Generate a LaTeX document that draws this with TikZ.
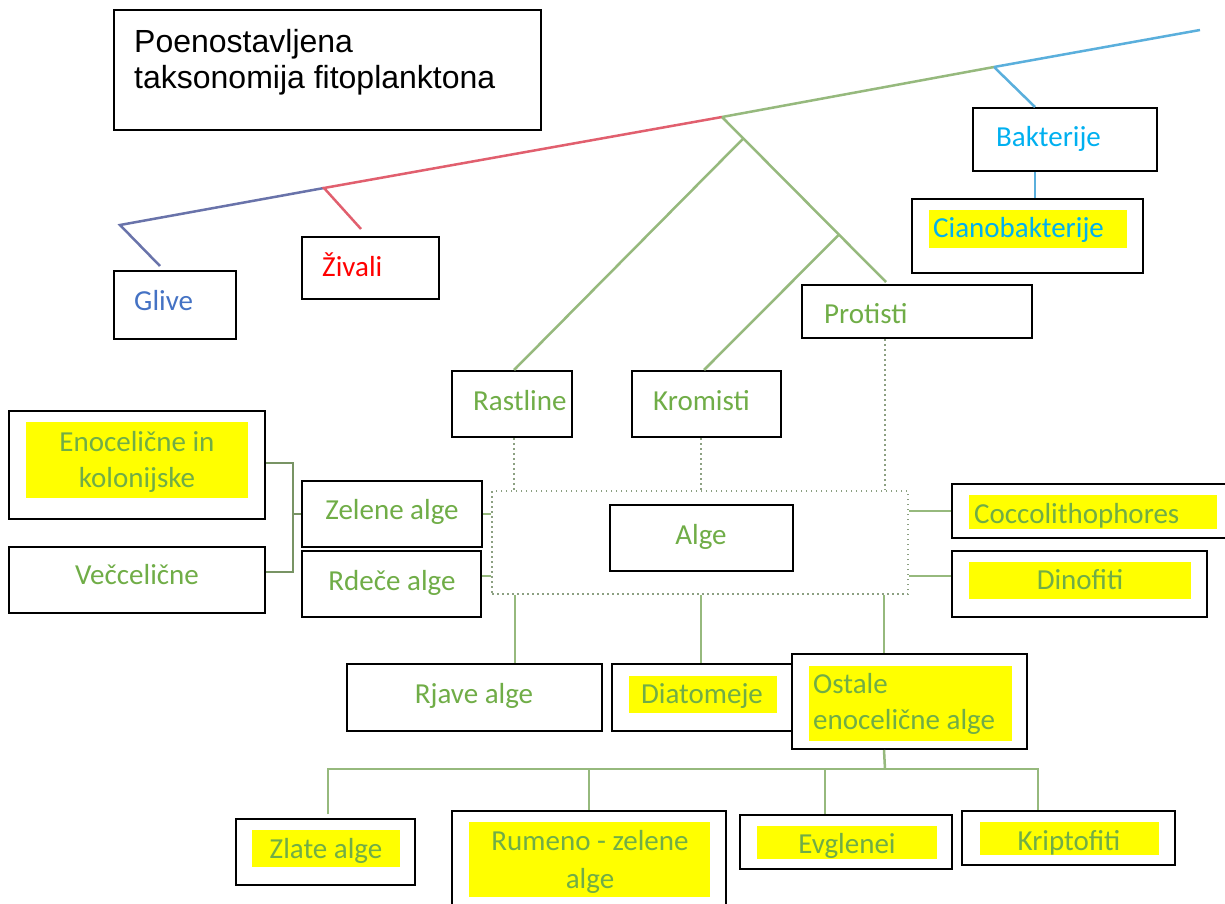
\documentclass[tikz,border=0pt]{standalone}
\usepackage{fontspec}
\setmainfont{Carlito}
\newfontfamily\titlefont{Liberation Sans}
\usetikzlibrary{fit,calc}
\definecolor{tgreen}{HTML}{70AD47}
\definecolor{tblue}{HTML}{4472C4}
\definecolor{tred}{HTML}{FF0000}
\definecolor{tcyan}{HTML}{00B0F0}
\definecolor{lgreen}{RGB}{150,185,125}
\definecolor{lblue}{RGB}{105,115,170}
\definecolor{lred}{RGB}{225,95,110}
\definecolor{lcyan}{RGB}{90,175,220}
\definecolor{ldot}{RGB}{140,160,130}
\definecolor{hlyellow}{RGB}{255,255,0}
\begin{document}
\begin{tikzpicture}[x=1pt,y=-1pt,
  box/.style={draw=black,line width=2pt,fill=white,inner sep=0pt},
  hl/.style={fill=hlyellow,inner sep=0pt},
  lbl/.style={inner sep=0pt,font=\fontsize{29}{37}\selectfont},
  gline/.style={draw=lgreen,line width=2.5pt},
  dline/.style={draw=ldot,line width=2.5pt,dash pattern=on 1.5pt off 3.5pt}]
\useasboundingbox (0,0) rectangle (1225,904);
\clip (0,0) rectangle (1225,904);
\fill[white] (0,0) rectangle (1225,904);

% tree junctions
\coordinate (gc) at (120,225);
\coordinate (jz) at (324,188);
\coordinate (jg) at (722,117);
\coordinate (jc) at (994,67);
\coordinate (tend) at (1200,30);

% boxes
\node[box,fit={(114,10)(541,130)}] (title) {};
\node[box,fit={(114,271)(236,339)}] (glive) {};
\node[box,fit={(302,237)(439,299)}] (zivali) {};
\node[box,fit={(973,108)(1157,171)}] (bakt) {};
\node[box,fit={(912,199)(1143,273)}] (ciano) {};
\node[box,fit={(802,285)(1032,338)}] (protisti) {};
\node[box,fit={(452,371)(572,437)}] (rastline) {};
\node[box,fit={(632,371)(781,437)}] (kromisti) {};
\node[box,fit={(9,411)(265,519)}] (enoc) {};
\node[box,fit={(9,547)(265,613)}] (vecc) {};
\node[box,fit={(302,481)(482,547)}] (zelene) {};
\node[box,fit={(302,551)(481,617)}] (rdece) {};
\node[dline,inner sep=0pt,fit={(492,491)(908,594)}] (algae) {};
\node[box,fit={(610,505)(793,571)}] (alge) {};
\node[box,fit={(952,484)(1228,538)}] (cocco) {};
\node[box,fit={(952,551)(1207,617)}] (dino) {};
\node[box,fit={(347,664)(602,731)}] (rjave) {};
\node[box,fit={(612,664)(800,731)}] (diat) {};
\node[box,fit={(792,654)(1027,749)}] (ostale) {};
\node[box,fit={(236,819)(415,885)}] (zlate) {};
\node[box,fit={(452,811)(726,915)}] (rumeno) {};
\node[box,fit={(740,815)(952,869)}] (evgl) {};
\node[box,fit={(962,811)(1175,865)}] (kripto) {};

% highlights
\node[hl,fit={(929,210)(1127,248)}] (hciano) {};
\node[hl,fit={(26,422)(248,498)}] (henoc) {};
\node[hl,fit={(969,495)(1217,529)}] (hcocco) {};
\node[hl,fit={(969,562)(1191,599)}] (hdino) {};
\node[hl,fit={(629,676)(777,713)}] (hdiat) {};
\node[hl,fit={(809,666)(1012,741)}] (hostale) {};
\node[hl,fit={(252,830)(400,867)}] (hzlate) {};
\node[hl,fit={(469,822)(710,897)}] (hrumeno) {};
\node[hl,fit={(757,826)(937,859)}] (hevgl) {};
\node[hl,fit={(980,822)(1159,855)}] (hkripto) {};

% texts
\node[inner sep=0pt,anchor=base west,font=\titlefont\fontsize{32}{37}\selectfont] (t1) at (134,53) {Poenostavljena};
\node[inner sep=0pt,anchor=base west,font=\titlefont\fontsize{32}{37}\selectfont] (t2) at (134,89) {taksonomija fitoplanktona};
\node[lbl,anchor=base west,text=tblue] (lglive) at (134,310) {Glive};
\node[lbl,anchor=base west,text=tred] (lzivali) at (322,276) {Živali};
\node[lbl,anchor=base west,text=tcyan] (lbakt) at (996,147) {Bakterije};
\node[lbl,anchor=base west,text=tcyan] (lciano) at (933,237) {Cianobakterije};
\node[lbl,anchor=base west,text=tgreen] (lprot) at (824,323) {Protisti};
\node[lbl,anchor=base west,text=tgreen] (lrast) at (473,410) {Rastline};
\node[lbl,anchor=base west,text=tgreen] (lkrom) at (653,410) {Kromisti};
\node[lbl,anchor=base,text=tgreen] (lenoc1) at (137,451) {Enocelične in};
\node[lbl,anchor=base,text=tgreen] (lenoc2) at (137,487) {kolonijske};
\node[lbl,anchor=base,text=tgreen] (lvecc) at (137,584) {Večcelične};
\node[lbl,anchor=base,text=tgreen] (lzel) at (392,519) {Zelene alge};
\node[lbl,anchor=base,text=tgreen] (lrde) at (392,590) {Rdeče alge};
\node[lbl,anchor=base,text=tgreen] (lalge) at (701,544) {Alge};
\node[lbl,anchor=base west,text=tgreen] (lcocco) at (974,523) {Coccolithophores};
\node[lbl,anchor=base,text=tgreen] (ldino) at (1080,589) {Dinofiti};
\node[lbl,anchor=base,text=tgreen] (lrjave) at (474,703) {Rjave alge};
\node[lbl,anchor=base,text=tgreen] (ldiat) at (702,703) {Diatomeje};
\node[lbl,anchor=base west,text=tgreen] (lost1) at (813,693) {Ostale};
\node[lbl,anchor=base west,text=tgreen] (lost2) at (813,729) {enocelične alge};
\node[lbl,anchor=base,text=tgreen] (lzlate) at (326,858) {Zlate alge};
\node[lbl,anchor=base,text=tgreen] (lrum1) at (590,850) {Rumeno - zelene};
\node[lbl,anchor=base,text=tgreen] (lrum2) at (590,888) {alge};
\node[lbl,anchor=base,text=tgreen] (levgl) at (847,853) {Evglenei};
\node[lbl,anchor=base,text=tgreen] (lkripto) at (1069,850) {Kriptofiti};

% main tree
\draw[draw=lblue,line width=2.5pt] ($(glive.north west)+(47,-4)$) -- (gc) -- (jz);
\draw[draw=lred,line width=2.5pt] ($(zivali.north west)+(60,-7)$) -- (jz) -- (jg);
\draw[gline] (jg) -- (jc);
\draw[draw=lcyan,line width=2.5pt] (jc) -- (tend);
\draw[draw=lcyan,line width=2.5pt] (jc) -- ($(bakt.north west)+(63,0)$);
\draw[draw=lcyan,line width=2.5pt] ($(bakt.south west)+(63,0)$) -- ($(ciano.north west)+(124,0)$);

% green subtree
\coordinate (jp) at ($(protisti.north west)+(85,-2)$);
\coordinate (jl) at ($(jg)!0.13!(jp)$);
\coordinate (jk) at ($(jg)!0.713!(jp)$);
\draw[gline] (jg) -- (jp);
\draw[gline] (jl) -- ($(rastline.north west)+(63,0)$);
\draw[gline] (jk) -- ($(kromisti.north west)+(73,0)$);

% dotted links to algae
\coordinate (rt) at ($(rastline.south west)+(63,0)$);
\coordinate (kt) at ($(kromisti.south west)+(70,0)$);
\coordinate (pt) at ($(protisti.south west)+(84,0)$);
\draw[dline] (rt) -- (rt |- algae.north);
\draw[dline] (kt) -- (kt |- algae.north);
\draw[dline] (pt) -- (pt |- algae.north);

% side links
\draw[gline,line width=2pt] (zelene.east) -- (zelene.east -| algae.west);
\coordinate (rd) at ($(rdece.east)+(0,-8)$);
\draw[gline,line width=2pt] (rd) -- (rd -| algae.west);
\draw[gline,line width=2pt] (algae.east |- cocco.west) -- (cocco.west);
\coordinate (dn) at ($(dino.west)+(0,-8)$);
\draw[gline,line width=2pt] (algae.east |- dn) -- (dn);

% bracket
\coordinate (brk) at (293,514);
\coordinate (vv) at ($(vecc.east)+(0,-8)$);
\draw[draw=lgreen!80!black,line width=2pt] ($(enoc.east)+(0,-2)$) -| (brk) |- (vv);
\draw[draw=lgreen!80!black,line width=2pt] (brk) -- (zelene.west);

% bottom links
\coordinate (rj) at ($(rjave.north west)+(169,0)$);
\coordinate (di) at ($(diat.north west)+(90,0)$);
\coordinate (os) at ($(ostale.north west)+(93,0)$);
\draw[gline] (algae.south -| rj) -- (rj);
\draw[gline] (algae.south -| di) -- (di);
\draw[gline] (algae.south -| os) -- (os);

\coordinate (hb) at (885,769);
\coordinate (zt) at ($(zlate.north west)+(93,-4)$);
\coordinate (rut) at ($(rumeno.north west)+(138,0)$);
\coordinate (evt) at ($(evgl.north west)+(86,0)$);
\coordinate (krt) at ($(kripto.north west)+(77,0)$);
\draw[gline] ($(ostale.south west)+(93,0)$) -- (hb);
\draw[gline] (zt) -- (zt |- hb) -- (krt |- hb) -- (krt);
\draw[gline] (rut |- hb) -- (rut);
\draw[gline] (evt |- hb) -- (evt);
\end{tikzpicture}
\end{document}
